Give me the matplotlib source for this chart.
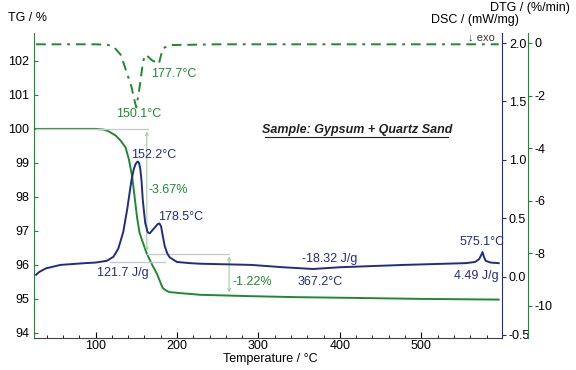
import matplotlib.pyplot as plt
import numpy as np

plt.rcParams['font.family'] = ['Liberation Sans', 'DejaVu Sans']
plt.rcParams['axes.unicode_minus'] = False

GREEN = '#1e8a30'
BLUE = '#222c84'
LGREEN = '#9fcf9f'
GRAY = '#c8ccd0'

# TG curve (temperature degC, mass %)
tg_t = [27, 60, 100, 110, 116, 125, 131, 137, 141, 145, 148, 151, 154, 157.5,
        162.5, 166, 170, 175, 182.5, 187, 191, 204, 229, 291, 350, 415, 500, 595]
tg_v = [100.0, 100.0, 100.0, 99.98, 99.93, 99.8, 99.65, 99.45, 99.1, 98.6, 98.0,
        97.4, 96.95, 96.7, 96.36, 96.18, 95.98, 95.76, 95.32, 95.24, 95.2, 95.17,
        95.12, 95.08, 95.05, 95.03, 95.0, 94.98]

# DSC curve (mW/mg)
dsc_t = [27, 31, 39, 57, 87, 100, 114, 122, 128, 134, 139, 144, 147, 149, 150.8,
         152.2, 153.6, 155, 156.5, 158, 161, 164, 166.5, 169, 174, 176.5, 178.5,
         180.5, 182, 185, 188, 191, 200, 216, 229, 291, 330, 367.2, 400, 479, 554,
         566, 571, 573.5, 575.1, 576.8, 579, 585, 595]
dsc_v = [0.015, 0.04, 0.07, 0.10, 0.115, 0.12, 0.135, 0.17, 0.24, 0.38, 0.58,
         0.82, 0.92, 0.96, 0.98, 0.985, 0.97, 0.92, 0.82, 0.66, 0.46, 0.38, 0.37,
         0.39, 0.43, 0.45, 0.455, 0.43, 0.37, 0.26, 0.2, 0.165, 0.125, 0.115, 0.11,
         0.10, 0.08, 0.065, 0.08, 0.10, 0.115, 0.125, 0.15, 0.185, 0.21, 0.17,
         0.135, 0.12, 0.115]

# DTG curve (%/min)
dtg_t = [27, 100, 115, 122.5, 131, 137, 144, 148, 150.1, 152, 155, 157.5, 160,
         162, 169, 177.7, 181, 183, 191, 250, 595]
dtg_v = [-0.05, -0.05, -0.07, -0.15, -0.45, -1.0, -1.65, -2.2, -2.45, -2.1, -1.5,
         -0.9, -0.5, -0.45, -0.65, -0.8, -0.4, -0.2, -0.08, -0.05, -0.05]

fig = plt.figure(figsize=(5.76, 3.70), dpi=100)
ax = fig.add_axes([34/576, 1-338/370, 468/576, 305/370])
ax2 = ax.twinx()
ax3 = ax.twinx()

ax.set_xlim(24.5, 599)
ax.set_ylim(93.85, 102.82)
ax2.set_ylim(-0.526, 2.086)
ax3.set_ylim(-11.22, 0.38)

# TG
ax.plot(tg_t, tg_v, color=GREEN, lw=1.4)
ax.plot([27, 164], [100, 100], color=GRAY, lw=1)
ax.plot([163, 264], [96.33, 96.33], color=GRAY, lw=1)
ax.annotate('', xy=(163, 96.33), xytext=(163, 100),
            arrowprops=dict(arrowstyle='<->', color=LGREEN, lw=0.8, mutation_scale=5))
ax.annotate('', xy=(264, 95.11), xytext=(264, 96.33),
            arrowprops=dict(arrowstyle='<->', color=LGREEN, lw=0.8, mutation_scale=5))

# DSC
ax2.plot([118, 185], [0.125, 0.125], color='#c4c8dc', lw=1)
ax2.plot(dsc_t, dsc_v, color=BLUE, lw=1.4)

# DTG
ax3.plot(dtg_t, dtg_v, color=GREEN, lw=1.4, linestyle=(0, (5, 3, 5, 3, 1.5, 3)))

# spines
ax.spines['top'].set_visible(False)
ax.spines['right'].set_visible(False)
ax.spines['left'].set_color(GREEN)
ax.spines['bottom'].set_color('#444444')
for a in (ax2, ax3):
    a.spines['top'].set_visible(False)
    a.spines['left'].set_visible(False)
    a.spines['bottom'].set_visible(False)
ax2.spines['right'].set_color(BLUE)
ax3.spines['right'].set_color(GREEN)
ax3.spines['right'].set_position(('axes', 494/468))

ax.set_xticks([100, 200, 300, 400, 500])
ax.set_xticks(np.arange(40, 600, 20), minor=True)
ax.set_yticks([94, 95, 96, 97, 98, 99, 100, 101, 102])
ax.tick_params(axis='x', direction='in', length=4, labelsize=9, pad=1.5)
ax.tick_params(axis='x', which='minor', direction='in', length=2)
ax.tick_params(axis='y', direction='in', length=3, labelsize=9, color=GREEN)
ax2.set_yticks([-0.5, 0.0, 0.5, 1.0, 1.5, 2.0])
ax2.set_yticklabels(['-0.5', '0.0', '0.5', '1.0', '1.5', '2.0'])
ax2.tick_params(axis='y', direction='out', length=3, labelsize=9, color=BLUE, pad=2)
ax3.set_yticks([0, -2, -4, -6, -8, -10])
ax3.tick_params(axis='y', direction='out', length=3, labelsize=9, color=GREEN, pad=2)

# axis titles
fig.text(27/576, 1-18/370, 'TG / %', ha='center', va='center', fontsize=9)
fig.text(519/576, 1-20/370, 'DSC / (mW/mg)', ha='right', va='center', fontsize=9)
fig.text(570/576, 1-8/370, 'DTG / (%/min)', ha='right', va='center', fontsize=9)
fig.text(270/576, 1-359/370, 'Temperature / °C', ha='center', va='center', fontsize=9)

# annotations
fs = 9
ax.text(153.4, 100.44, '150.1°C', color=GREEN, fontsize=fs, ha='center', va='center')
ax.text(196.3, 101.62, '177.7°C', color=GREEN, fontsize=fs, ha='center', va='center')
ax.text(171.8, 99.24, '152.2°C', color=BLUE, fontsize=fs, ha='center', va='center')
ax.text(189, 98.21, '-3.67%', color=GREEN, fontsize=fs, ha='center', va='center')
ax.text(204.9, 97.41, '178.5°C', color=BLUE, fontsize=fs, ha='center', va='center')
ax.text(133.7, 95.76, '121.7 J/g', color=BLUE, fontsize=fs, ha='center', va='center')
ax.text(292, 95.5, '-1.22%', color=GREEN, fontsize=fs, ha='center', va='center')
ax.text(387.7, 96.18, '-18.32 J/g', color=BLUE, fontsize=fs, ha='center', va='center')
ax.text(375.5, 95.5, '367.2°C', color=BLUE, fontsize=fs, ha='center', va='center')
ax.text(574, 96.68, '575.1°C', color=BLUE, fontsize=fs, ha='center', va='center')
ax.text(568, 95.68, '4.49 J/g', color=BLUE, fontsize=fs, ha='center', va='center')
ax.text(574, 102.68, '↓ exo', color='#333333', fontsize=8, ha='center', va='center')
ax.text(420.9, 99.97, 'Sample: Gypsum + Quartz Sand', color='#222222', fontsize=9,
        ha='center', va='center', fontweight='bold', fontstyle='italic')
ax.plot([308, 533], [99.77, 99.77], color='#222222', lw=0.8)

fig.savefig('out.png', dpi=100)
